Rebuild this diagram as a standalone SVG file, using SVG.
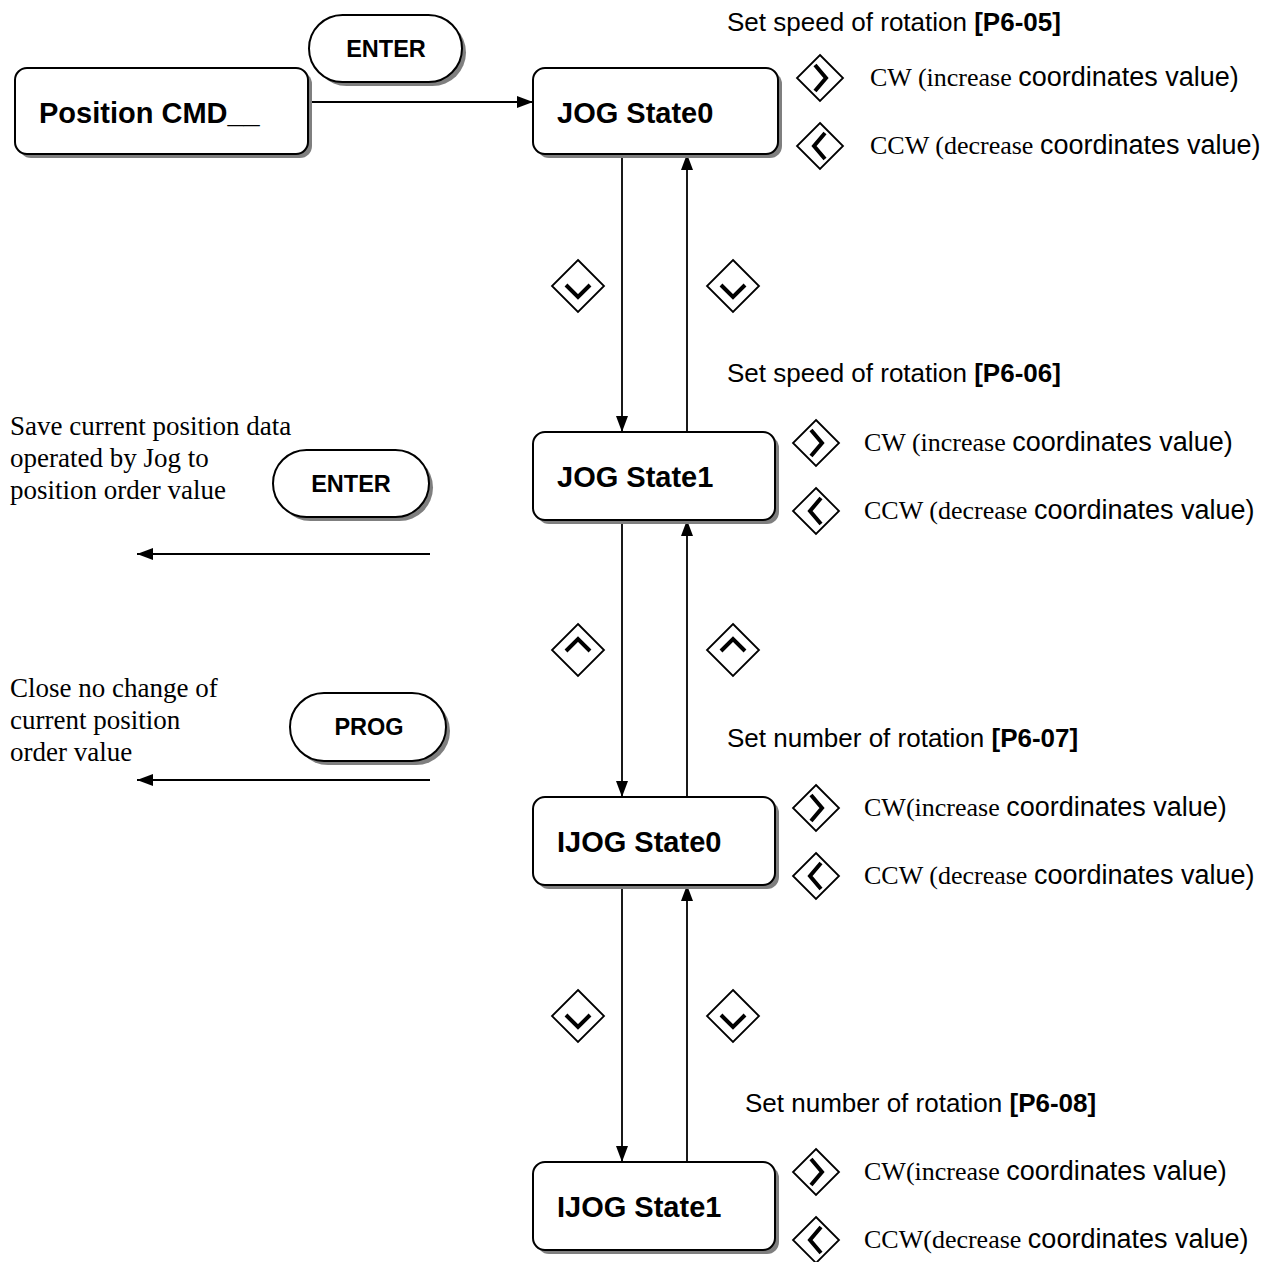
<svg xmlns="http://www.w3.org/2000/svg" width="1272" height="1262" viewBox="0 0 1272 1262">
<defs>
<marker id="ah" viewBox="0 0 16 12" refX="16" refY="6" markerWidth="16" markerHeight="12" markerUnits="userSpaceOnUse" orient="auto">
<path d="M0,0 L16,6 L0,12 Z" fill="#000"/>
</marker>
<g id="dm"><path d="M0,-26 L26,0 L0,26 L-26,0 Z" class="dia"/></g>
<g id="sd"><path d="M0,-23 L23,0 L0,23 L-23,0 Z" class="dia"/></g>
</defs>
<style>
.box{fill:#fff;stroke:#000;stroke-width:2}
.shd{fill:#7f7f7f}
.lbl{font-family:"Liberation Sans",Arial,sans-serif;font-weight:bold;font-size:29px;fill:#000}
.key{font-family:"Liberation Sans",Arial,sans-serif;font-weight:bold;font-size:23.5px;fill:#000;text-anchor:middle}
.hdr{font-family:"Liberation Sans",Arial,sans-serif;font-size:26px;fill:#000}
.ser{font-family:"Liberation Serif","Times New Roman",serif;font-size:26px;fill:#000}
.note{font-family:"Liberation Serif","Times New Roman",serif;font-size:27px;fill:#000}
.san{font-family:"Liberation Sans",Arial,sans-serif;font-size:27px}
.b{font-weight:bold}
.dia{fill:#fff;stroke:#000;stroke-width:1.8}
.chev{fill:none;stroke:#000;stroke-width:4}
.con{stroke:#000;stroke-width:1.8;fill:none}
</style>

<g id="connectors">
<line class="con" x1="308" y1="102" x2="533" y2="102" marker-end="url(#ah)"/>
<line class="con" x1="622" y1="154" x2="622" y2="432" marker-end="url(#ah)"/>
<line class="con" x1="687" y1="432" x2="687" y2="154" marker-end="url(#ah)"/>
<line class="con" x1="622" y1="520" x2="622" y2="797" marker-end="url(#ah)"/>
<line class="con" x1="687" y1="797" x2="687" y2="520" marker-end="url(#ah)"/>
<line class="con" x1="622" y1="885" x2="622" y2="1162" marker-end="url(#ah)"/>
<line class="con" x1="687" y1="1162" x2="687" y2="885" marker-end="url(#ah)"/>
<line class="con" x1="430" y1="554" x2="137" y2="554" marker-end="url(#ah)"/>
<line class="con" x1="430" y1="780" x2="137" y2="780" marker-end="url(#ah)"/>
</g>

<g id="position-cmd">
<rect class="shd" x="19" y="72" width="293" height="86" rx="12"/>
<rect class="box" x="15" y="68" width="293" height="86" rx="12"/>
<text class="lbl" x="39" y="123">Position CMD__</text>
</g>

<g id="enter-key-top">
<rect class="shd" x="313" y="19" width="153" height="67" rx="33.5"/>
<rect class="box" x="309" y="15" width="153" height="67" rx="33.5"/>
<text class="key" x="386" y="57">ENTER</text>
</g>

<g id="jog-state0">
<rect class="shd" x="537" y="72" width="245" height="86" rx="12"/>
<rect class="box" x="533" y="68" width="245" height="86" rx="12"/>
<text class="lbl" x="557" y="123">JOG State0</text>
</g>

<g id="jog-state1">
<rect class="shd" x="537" y="436" width="242" height="88" rx="12"/>
<rect class="box" x="533" y="432" width="242" height="88" rx="12"/>
<text class="lbl" x="557" y="487">JOG State1</text>
</g>

<g id="ijog-state0">
<rect class="shd" x="537" y="801" width="242" height="88" rx="12"/>
<rect class="box" x="533" y="797" width="242" height="88" rx="12"/>
<text class="lbl" x="557" y="852">IJOG State0</text>
</g>

<g id="ijog-state1">
<rect class="shd" x="537" y="1166" width="242" height="88" rx="12"/>
<rect class="box" x="533" y="1162" width="242" height="88" rx="12"/>
<text class="lbl" x="557" y="1217">IJOG State1</text>
</g>

<g id="enter-key-save">
<rect class="shd" x="277" y="454" width="156" height="67" rx="33.5"/>
<rect class="box" x="273" y="450" width="156" height="67" rx="33.5"/>
<text class="key" x="351" y="492">ENTER</text>
</g>

<g id="prog-key">
<rect class="shd" x="294" y="697" width="156" height="68" rx="34"/>
<rect class="box" x="290" y="693" width="156" height="68" rx="34"/>
<text class="key" x="369" y="735">PROG</text>
</g>

<g id="save-note">
<text class="note" x="10" y="435">Save current position data</text>
<text class="note" x="10" y="467">operated by Jog to</text>
<text class="note" x="10" y="499">position order value</text>
</g>

<g id="close-note">
<text class="note" x="10" y="697">Close no change of</text>
<text class="note" x="10" y="729">current position</text>
<text class="note" x="10" y="761">order value</text>
</g>

<g id="transition-keys">
<use href="#dm" x="578" y="286"/><path class="chev" d="M566,285 L578,297 L590,285"/>
<use href="#dm" x="733" y="286"/><path class="chev" d="M721,285 L733,297 L745,285"/>
<use href="#dm" x="578" y="650"/><path class="chev" d="M566,651 L578,639 L590,651"/>
<use href="#dm" x="733" y="650"/><path class="chev" d="M721,651 L733,639 L745,651"/>
<use href="#dm" x="578" y="1016"/><path class="chev" d="M566,1015 L578,1027 L590,1015"/>
<use href="#dm" x="733" y="1016"/><path class="chev" d="M721,1015 L733,1027 L745,1015"/>
</g>

<g id="jog0-info">
<text class="hdr" x="727" y="31">Set speed of rotation <tspan class="b">[P6-05]</tspan></text>
<use href="#sd" x="820" y="78"/><path class="chev" d="M815,65 L826,78 L815,91"/>
<use href="#sd" x="820" y="146"/><path class="chev" d="M825,133 L814,146 L825,159"/>
<text class="ser" x="870" y="86">CW (increase <tspan class="san">coordinates value)</tspan></text>
<text class="ser" x="870" y="154">CCW (decrease <tspan class="san">coordinates value)</tspan></text>
</g>

<g id="jog1-info">
<text class="hdr" x="727" y="382">Set speed of rotation <tspan class="b">[P6-06]</tspan></text>
<use href="#sd" x="816" y="443"/><path class="chev" d="M811,430 L822,443 L811,456"/>
<use href="#sd" x="816" y="511"/><path class="chev" d="M821,498 L810,511 L821,524"/>
<text class="ser" x="864" y="451">CW (increase <tspan class="san">coordinates value)</tspan></text>
<text class="ser" x="864" y="519">CCW (decrease <tspan class="san">coordinates value)</tspan></text>
</g>

<g id="ijog0-info">
<text class="hdr" x="727" y="747">Set number of rotation <tspan class="b">[P6-07]</tspan></text>
<use href="#sd" x="816" y="808"/><path class="chev" d="M811,795 L822,808 L811,821"/>
<use href="#sd" x="816" y="876"/><path class="chev" d="M821,863 L810,876 L821,889"/>
<text class="ser" x="864" y="816">CW(increase <tspan class="san">coordinates value)</tspan></text>
<text class="ser" x="864" y="884">CCW (decrease <tspan class="san">coordinates value)</tspan></text>
</g>

<g id="ijog1-info">
<text class="hdr" x="745" y="1112">Set number of rotation <tspan class="b">[P6-08]</tspan></text>
<use href="#sd" x="816" y="1172"/><path class="chev" d="M811,1159 L822,1172 L811,1185"/>
<use href="#sd" x="816" y="1240"/><path class="chev" d="M821,1227 L810,1240 L821,1253"/>
<text class="ser" x="864" y="1180">CW(increase <tspan class="san">coordinates value)</tspan></text>
<text class="ser" x="864" y="1248">CCW(decrease <tspan class="san">coordinates value)</tspan></text>
</g>
</svg>
